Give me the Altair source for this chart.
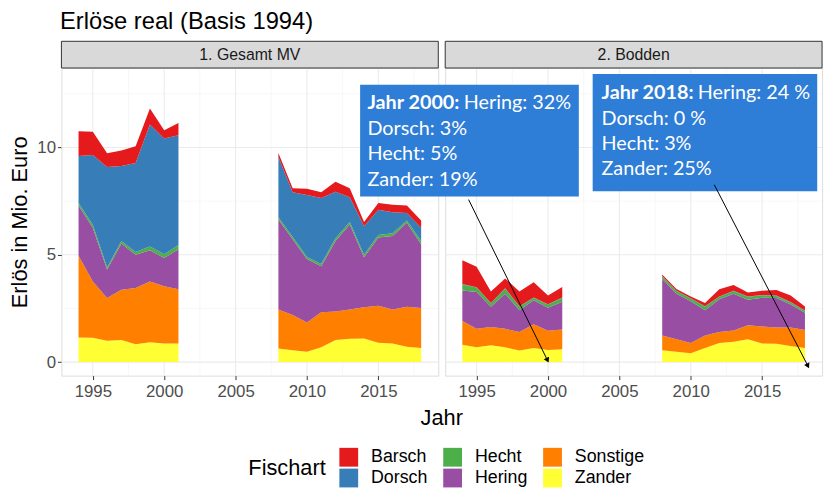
import altair as alt
import pandas as pd

# ---------------- data ----------------
years = [1994, 1995, 1996, 1997, 1998, 1999, 2000, 2001,
         2008, 2009, 2010, 2011, 2012, 2013, 2014, 2015, 2016, 2017, 2018]

gesamt_zander   = [1.15, 1.13, 1.00, 1.03, 0.83, 0.92, 0.87, 0.87, 0.64, 0.55, 0.48, 0.69, 1.03, 1.09, 1.10, 0.90, 0.87, 0.72, 0.66]
gesamt_sonstige = [3.80, 2.63, 1.99, 2.34, 2.62, 2.84, 2.66, 2.53, 1.81, 1.64, 1.36, 1.63, 1.33, 1.36, 1.45, 1.72, 1.58, 1.86, 1.86]
gesamt_hering   = [2.34, 2.50, 1.32, 2.15, 1.55, 1.45, 1.32, 1.86, 4.19, 3.53, 2.96, 2.14, 3.28, 3.96, 2.33, 3.18, 3.42, 3.91, 2.97]
gesamt_hecht    = [0.12, 0.14, 0.10, 0.12, 0.13, 0.18, 0.17, 0.20, 0.11, 0.11, 0.10, 0.11, 0.13, 0.12, 0.12, 0.12, 0.13, 0.11, 0.15]
gesamt_dorsch   = [2.19, 3.25, 4.68, 3.49, 4.14, 5.68, 5.40, 5.11, 2.80, 2.08, 2.89, 3.07, 2.17, 1.15, 1.33, 1.18, 0.98, 0.35, 0.62]
gesamt_barsch   = [1.16, 1.08, 0.64, 0.73, 0.78, 0.74, 0.38, 0.57, 0.19, 0.19, 0.28, 0.27, 0.46, 0.42, 0.20, 0.31, 0.35, 0.34, 0.34]

bodden_zander   = [0.81, 0.69, 0.78, 0.69, 0.54, 0.66, 0.57, 0.60, 0.55, 0.48, 0.41, 0.66, 0.89, 0.95, 1.07, 0.87, 0.86, 0.75, 0.66]
bodden_sonstige = [1.11, 0.86, 0.86, 0.86, 0.86, 1.10, 0.89, 0.92, 0.69, 0.59, 0.48, 0.58, 0.51, 0.52, 0.65, 0.79, 0.75, 0.86, 0.84]
bodden_hering   = [1.42, 1.72, 0.94, 1.64, 1.02, 1.12, 1.07, 1.29, 2.64, 2.12, 1.95, 1.18, 1.53, 1.72, 1.19, 1.34, 1.38, 1.07, 0.80]
bodden_hecht    = [0.28, 0.20, 0.15, 0.23, 0.16, 0.11, 0.15, 0.18, 0.11, 0.12, 0.12, 0.16, 0.11, 0.11, 0.13, 0.11, 0.09, 0.10, 0.09]
bodden_dorsch   = [0.02, 0.02, 0.02, 0.02, 0.02, 0.02, 0.02, 0.02, 0.02, 0.02, 0.02, 0.02, 0.02, 0.02, 0.02, 0.02, 0.02, 0.02, 0.01]
bodden_barsch   = [1.10, 0.95, 0.54, 0.46, 0.69, 0.71, 0.40, 0.49, 0.07, 0.08, 0.08, 0.15, 0.33, 0.27, 0.18, 0.20, 0.26, 0.30, 0.19]

panels = ["1. Gesamt MV", "2. Bodden"]
stack_order = ["Zander", "Sonstige", "Hering", "Hecht", "Dorsch", "Barsch"]  # bottom -> top
legend_order = ["Barsch", "Hecht", "Sonstige", "Dorsch", "Hering", "Zander"]
legend_colors = ["#E41A1C", "#4DAF4A", "#FF7F00", "#377EB8", "#984EA3", "#FFFF33"]

x_major = [1995, 2000, 2005, 2010, 2015]
x_minor = [1997.5, 2002.5, 2007.5, 2012.5, 2017.5]
y_major = [0, 5, 10]
y_minor = [2.5, 7.5, 12.5]

# annotation text
ann_bold = ["Jahr 2000:", "Jahr 2018:"]
ann_first = ["Hering: 32%", "Hering: 24 %"]
ann_lines1 = ["Dorsch: 3%", "Hecht: 5%", "Zander: 19%"]
ann_lines2 = ["Dorsch: 0 %", "Hecht: 3%", "Zander: 25%"]

series = {
    "1. Gesamt MV": {"Zander": gesamt_zander, "Sonstige": gesamt_sonstige, "Hering": gesamt_hering,
                     "Hecht": gesamt_hecht, "Dorsch": gesamt_dorsch, "Barsch": gesamt_barsch},
    "2. Bodden": {"Zander": bodden_zander, "Sonstige": bodden_sonstige, "Hering": bodden_hering,
                  "Hecht": bodden_hecht, "Dorsch": bodden_dorsch, "Barsch": bodden_barsch},
}

rows = []
for p in panels:
    for i, sp in enumerate(stack_order):
        for yr, v in zip(years, series[p][sp]):
            rows.append({"Panel": p, "Jahr": yr, "Fischart": sp, "Wert": v, "Ord": i,
                         "Periode": 1 if yr <= 2001 else 2})
df = pd.DataFrame(rows)

# ---------------- layout ----------------
W, H = 381, 311
FONT = "Liberation Sans"
AFONT = "Lato"
xscale = alt.Scale(domain=[1992.8, 2019.2], nice=False, zero=False)
yscale = alt.Scale(domain=[-0.63, 13.7], nice=False, zero=False)
color = alt.Color("Fischart:N", scale=alt.Scale(domain=legend_order, range=legend_colors),
                  legend=alt.Legend(title="Fischart", orient="none", legendX=189, legendY=384,
                                    direction="horizontal", columns=3, titleOrient="left",
                                    titleAnchor="middle",
                                    symbolType="square", symbolSize=361, symbolStrokeWidth=0,
                                    labelFontSize=18, titleFontSize=22, titleFontWeight="normal",
                                    labelFont=FONT, titleFont=FONT, labelColor="black",
                                    titleColor="black", columnPadding=15, rowPadding=2,
                                    labelOffset=13, titlePadding=13, symbolOpacity=1))


def make_panel(name, first):
    sub = df[df["Panel"] == name]
    xaxis = alt.Axis(values=x_major, format="d", labelFontSize=17, labelColor="#4d4d4d", labelFont=FONT,
                     tickColor="#333333", tickSize=4, domain=False, grid=False, labelPadding=4,
                     title="Jahr" if first else None, titleFontSize=22, titleFontWeight="normal",
                     titleFont=FONT, titleColor="black", titleX=384, titlePadding=8)
    if first:
        yaxis = alt.Axis(values=y_major, labelFontSize=17, labelColor="#4d4d4d", labelFont=FONT,
                         tickColor="#333333", tickSize=4, domain=False, grid=False, labelPadding=2,
                         title="Erlös in Mio. Euro", titleFontSize=22, titleFontWeight="normal",
                         titleFont=FONT, titleColor="black", titlePadding=5)
    else:
        yaxis = None

    def X(f):
        return alt.X(f, scale=xscale, axis=xaxis)

    def Y(f, **kw):
        return alt.Y(f, scale=yscale, axis=yaxis, **kw)

    layers = [
        alt.Chart(pd.DataFrame({"Jahr": x_minor})).mark_rule(color="#f2f2f2", strokeWidth=0.6).encode(x=X("Jahr:Q")),
        alt.Chart(pd.DataFrame({"Wert": y_minor})).mark_rule(color="#f2f2f2", strokeWidth=0.6).encode(y=Y("Wert:Q")),
        alt.Chart(pd.DataFrame({"Jahr": x_major})).mark_rule(color="#ebebeb", strokeWidth=1.1).encode(x=X("Jahr:Q")),
        alt.Chart(pd.DataFrame({"Wert": y_major})).mark_rule(color="#ebebeb", strokeWidth=1.1).encode(y=Y("Wert:Q")),
    ]
    for per in [1, 2]:
        layers.append(
            alt.Chart(sub).transform_filter(alt.datum.Periode == per).mark_area(opacity=1).encode(
                x=X("Jahr:Q"),
                y=Y("Wert:Q", stack="zero"),
                color=color,
                order=alt.Order("Ord:Q", sort="ascending"),
            ))
    strip_df = pd.DataFrame({"t": [name]})
    layers.append(alt.Chart(strip_df).mark_rect(fill="#d9d9d9", stroke="#333333", strokeWidth=1).encode(
        x=alt.value(0), x2=alt.value(W), y=alt.value(-27), y2=alt.value(0)))
    layers.append(alt.Chart(strip_df).mark_text(fontSize=16, font=FONT, color="#1a1a1a").encode(
        x=alt.value(W / 2), y=alt.value(-13), text="t:N"))

    if not first:
        box_df = pd.DataFrame({"x1": [1986.84, 2003.13], "x2": [2002.16, 2018.86],
                               "y1": [12.92, 13.42], "y2": [7.71, 7.96]})
        layers.append(alt.Chart(box_df).mark_rect(fill="#2E7DD6").encode(
            x=X("x1:Q"), x2="x2:Q", y=Y("y1:Q"), y2="y2:Q"))
        bold_df = pd.DataFrame({"x": [1987.35, 2003.75], "y": [11.80, 12.26], "t": ann_bold})
        layers.append(alt.Chart(bold_df).mark_text(fontSize=20, font=AFONT, fontWeight="bold", color="white",
                                                   align="left", baseline="alphabetic").encode(
            x=X("x:Q"), y=Y("y:Q"), text="t:N"))
        reg_x = [1994.10, 2010.49] + [1987.35] * 3 + [2003.75] * 3
        reg_y = [11.80, 12.26, 10.57, 9.40, 8.22, 11.03, 9.88, 8.72]
        reg_t = ann_first + ann_lines1 + ann_lines2
        reg_df = pd.DataFrame({"x": reg_x, "y": reg_y, "t": reg_t})
        layers.append(alt.Chart(reg_df).mark_text(fontSize=20, font=AFONT, color="white",
                                                  align="left", baseline="alphabetic").encode(
            x=X("x:Q"), y=Y("y:Q"), text="t:N"))
        arr_df = pd.DataFrame({"x1": [1994.44, 2011.65], "y1": [7.57, 8.26],
                               "x2": [1999.94, 2018.18], "y2": [0.12, -0.14], "ang": [154, 153]})
        layers.append(alt.Chart(arr_df).mark_rule(color="black", strokeWidth=1).encode(
            x=X("x1:Q"), y=Y("y1:Q"), x2="x2:Q", y2="y2:Q"))
        layers.append(alt.Chart(arr_df).mark_point(shape="triangle", filled=True, color="black",
                                                   size=35, opacity=1).encode(
            x=X("x2:Q"), y=Y("y2:Q"), angle=alt.Angle("ang:Q", scale=None)))
    return alt.layer(*layers).properties(width=W, height=H)


chart = alt.hconcat(make_panel(panels[0], True), make_panel(panels[1], False), spacing=7, bounds="flush").properties(
    title=alt.Title("Erlöse real (Basis 1994)", anchor="start", fontSize=24, fontWeight="normal",
                    font=FONT, color="black", offset=3, dx=52, dy=-3),
    padding={"left": 0, "top": 0, "right": 5, "bottom": 5},
).configure_view(stroke="#333333", strokeWidth=1).configure(background="white")

chart.save("out.html", embed_options={"renderer": "svg", "actions": False})
